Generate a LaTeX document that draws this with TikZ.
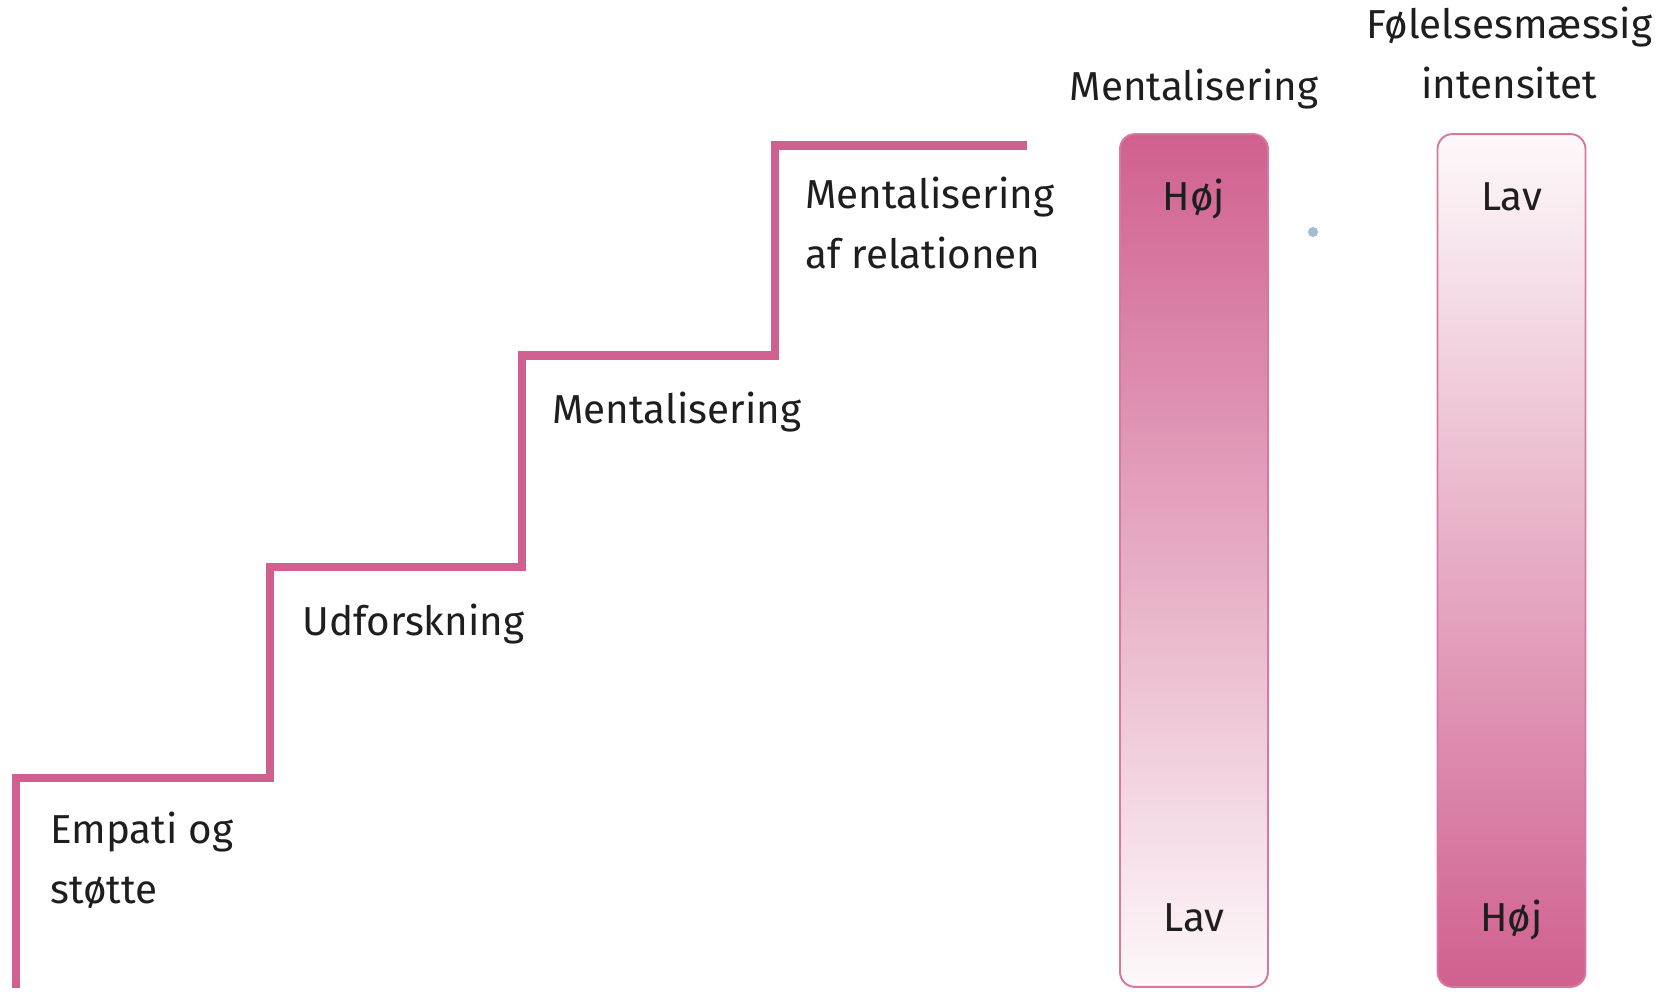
\documentclass[tikz,border=0pt]{standalone}
\usepackage{fontspec}
\setmainfont{Fira Sans}
\usetikzlibrary{positioning, calc}
\definecolor{stepPink}{HTML}{D0608F}
\definecolor{dotBlue}{HTML}{A3BBD3}
\definecolor{textGrey}{HTML}{1E1E1E}
\tikzset{
  stepText/.style = {
    anchor=base west,
    align=left,
    inner sep=0pt,
    text=textGrey,
    font=\fontsize{23}{34}\selectfont,
  },
  headText/.style = {
    anchor=base,
    align=center,
    inner sep=0pt,
    text=textGrey,
    font=\fontsize{23}{34}\selectfont,
  },
  stairs/.style = {
    draw=stepPink,
    line width=4.8pt,
  },
  bar/.style = {
    draw=stepPink!85,
    line width=1.1pt,
    rectangle,
    rounded corners=0.3cm,
    minimum width=2.96cm,
    minimum height=17.06cm,
  },
}

\begin{document}
\begin{tikzpicture}[
  x=0.02cm,
  y=-0.02cm,
  highDown/.style = {
    top color=stepPink,
    bottom color=stepPink!4,
  },
  highUp/.style = {
    top color=stepPink!4,
    bottom color=stepPink,
  },
]
\useasboundingbox (0,0) rectangle (1664,991);

% the staircase
\coordinate(Floor) at (16,988);
\coordinate(Step1) at (270,778);
\coordinate(Step2) at (522,567);
\coordinate(Step3) at (775,355.5);
\coordinate(Top) at (1027,145.5);
\draw[stairs] (Floor) |- (Step1) |- (Step2) |- (Step3) |- (Top);

% two-line labels sit on their last baseline
\node(Empati)[stepText] at (50,903) {Empati og\\støtte};
\node(Udforsk)[stepText] at (302,635) {Udforskning};
\node(Ment)[stepText] at (552,423) {Mentalisering};
\node(MentRel)[stepText] at (805,268) {Mentalisering\\af relationen};

% the two bars
\node(MentBar)[bar, highDown] at (1194,560.5) {};
\node(IntensBar)[bar, highUp] at (1511.5,560.5) {};

\node(MentHead)[headText] at (1194,100) {Mentalisering};
\node(IntensHead)[headText] at (1509,98) {Følelsesmæssig\\intensitet};

\node(MentHigh)[headText] at ($(MentBar.north)+(0,77)$) {Høj};
\node(MentLow)[headText] at ($(MentBar.south)+(0,-56)$) {Lav};
\node(IntensLow)[headText] at ($(IntensBar.north)+(0,77)$) {Lav};
\node(IntensHigh)[headText] at ($(IntensBar.south)+(0,-56)$) {Høj};

\node(Dot)[circle, fill=dotBlue, inner sep=0pt, minimum size=0.2cm] at (1313,232) {};

\end{tikzpicture}
\end{document}
